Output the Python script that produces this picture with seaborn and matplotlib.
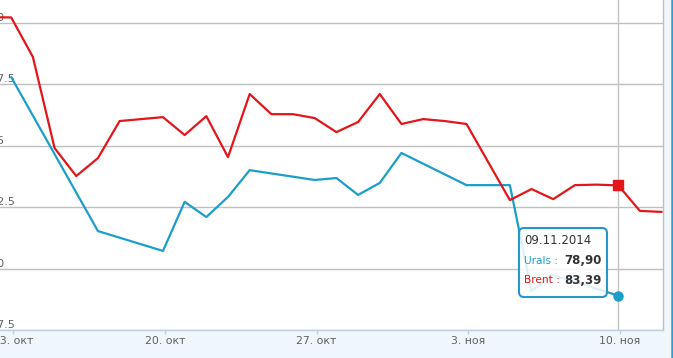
import pandas as pd
import numpy as np
import seaborn as sns
import matplotlib.pyplot as plt
import matplotlib.dates as mdates
from matplotlib.patches import FancyBboxPatch
from matplotlib.lines import Line2D

# Brent / Urals, USD per barrel (dates as in tooltip)
brent_dates = ['2014-10-11', '2014-10-12', '2014-10-13', '2014-10-14', '2014-10-15',
               '2014-10-16', '2014-10-17', '2014-10-19', '2014-10-20', '2014-10-21',
               '2014-10-22', '2014-10-23', '2014-10-24', '2014-10-25', '2014-10-26',
               '2014-10-27', '2014-10-28', '2014-10-29', '2014-10-30', '2014-10-31',
               '2014-11-01', '2014-11-02', '2014-11-04', '2014-11-05', '2014-11-06',
               '2014-11-07', '2014-11-08', '2014-11-09', '2014-11-10', '2014-11-11']
brent_values = [90.24, 90.23, 88.62, 84.91, 83.77, 84.50, 86.01, 86.17, 85.44, 86.21,
                84.54, 87.11, 86.29, 86.29, 86.13, 85.56, 85.97, 87.11, 85.89, 86.09,
                86.01, 85.89, 82.79, 83.24, 82.83, 83.40, 83.42, 83.39, 82.35, 82.31]

urals_dates = ['2014-10-12', '2014-10-16', '2014-10-19', '2014-10-20', '2014-10-21',
               '2014-10-22', '2014-10-23', '2014-10-26', '2014-10-27', '2014-10-28',
               '2014-10-29', '2014-10-30', '2014-11-02', '2014-11-04', '2014-11-05',
               '2014-11-06', '2014-11-09']
urals_values = [87.80, 81.53, 80.72, 82.72, 82.10, 82.92, 84.01, 83.61, 83.69, 83.00,
                83.49, 84.71, 83.40, 83.40, 79.09, 79.74, 78.90]

y_ticks = [77.5, 80, 82.5, 85, 87.5, 90]
x_tick_dates = ['2014-10-13', '2014-10-20', '2014-10-27', '2014-11-03', '2014-11-10']
x_tick_labels = ['13. окт', '20. окт', '27. окт', '3. ноя', '10. ноя']
hover_date = '09.11.2014'

RED = '#e3161b'
BLUE = '#1c9ecb'
BG = '#eff7fd'

sns.set_style('white')
plt.rcParams['font.family'] = ['DejaVu Sans']

# points sit a bit before midnight of the next day on the time axis
shift = pd.Timedelta(hours=22)
brent = pd.DataFrame({'date': pd.to_datetime(brent_dates) + shift, 'value': brent_values})
urals = pd.DataFrame({'date': pd.to_datetime(urals_dates) + shift, 'value': urals_values})

fig = plt.figure(figsize=(6.73, 3.58), dpi=100, facecolor=BG)
ax = fig.add_axes([0, 28 / 358, 663 / 673, 330 / 358])
ax.set_facecolor('white')

last = urals['date'].iloc[-1]
ax.axvline(last, color='#c4c4c4', lw=1, zorder=1)

sns.lineplot(data=urals, x='date', y='value', ax=ax, color=BLUE, lw=1.6,
             estimator=None, zorder=3)
sns.lineplot(data=brent, x='date', y='value', ax=ax, color=RED, lw=1.6,
             estimator=None, zorder=3)

b_last = brent.loc[brent['date'] == last, 'value'].iloc[0]
u_last = urals['value'].iloc[-1]
ax.plot([last], [b_last], marker='s', ms=6.5, color=RED, zorder=5)
ax.plot([last], [u_last], marker='o', ms=6.5, color=BLUE, zorder=5)

t0 = mdates.date2num(pd.Timestamp('2014-10-13'))
t1 = mdates.date2num(pd.Timestamp('2014-11-10'))
ax.set_xlim(t0 - 0.6, t1 + 1.98)
ax.set_ylim(77.5, 90.94)

ax.set_yticks(y_ticks)
ax.set_yticklabels([f'{v:g}' for v in y_ticks])
ax.yaxis.grid(True, color='#c0c0c0', lw=1)
ax.tick_params(axis='y', length=0, pad=7.2, labelsize=8, labelcolor='#606060')
for lab in ax.get_yticklabels():
    lab.set_horizontalalignment('left')
    lab.set_verticalalignment('bottom')

ax.set_xticks(mdates.date2num(pd.to_datetime(x_tick_dates)))
ax.set_xticklabels(x_tick_labels)
ax.tick_params(axis='x', length=3, width=1, color='#c0d0e0', pad=1,
               labelsize=7.8, labelcolor='#606060', bottom=True)

ax.set_xlabel('')
ax.set_ylabel('')
for s in ['left', 'top']:
    ax.spines[s].set_visible(False)
ax.spines['bottom'].set_color('#c0d0e0')
ax.spines['right'].set_color('#c0c0c0')
ax.spines['bottom'].set_linewidth(1)
ax.spines['right'].set_linewidth(1)

# outer blue frame line at the right
fig.add_artist(Line2D([671.5 / 673, 671.5 / 673], [0, 1], color='#2a9fd8', lw=1.8))

# tooltip
tr = fig.dpi_scale_trans
box = FancyBboxPatch((5.19, 0.61), 0.88, 0.69, boxstyle='round,pad=0,rounding_size=0.05',
                     transform=tr, facecolor='white', alpha=0.85, edgecolor='none', zorder=10)
fig.add_artist(box)
frame = FancyBboxPatch((5.19, 0.61), 0.88, 0.69, boxstyle='round,pad=0,rounding_size=0.05',
                       transform=tr, facecolor='none', edgecolor='#2597cc', lw=1.5, zorder=11)
fig.add_artist(frame)
fig.text(5.24, 1.17, hover_date, transform=tr, fontsize=8.5, color='#333333',
         va='center', ha='left', zorder=12)
fig.text(5.24, 0.97, 'Urals :', transform=tr, fontsize=7.6, color=BLUE,
         va='center', ha='left', zorder=12)
fig.text(6.02, 0.97, f'{u_last:.2f}'.replace('.', ','), transform=tr, fontsize=8.5,
         color='#333333', fontweight='bold', va='center', ha='right', zorder=12)
fig.text(5.24, 0.78, 'Brent :', transform=tr, fontsize=7.6, color=RED,
         va='center', ha='left', zorder=12)
fig.text(6.02, 0.78, f'{b_last:.2f}'.replace('.', ','), transform=tr, fontsize=8.5,
         color='#333333', fontweight='bold', va='center', ha='right', zorder=12)

plt.savefig('out.png', dpi=100, facecolor=BG)
